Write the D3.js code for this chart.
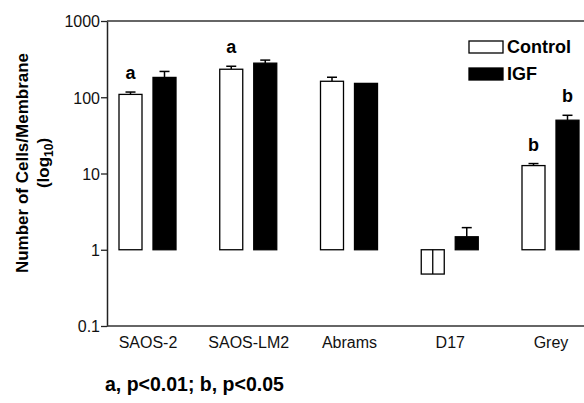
<!DOCTYPE html>
<html><head><meta charset="utf-8">
<script src="https://cdn.jsdelivr.net/npm/d3@7"></script>
<style>
body{margin:0;background:#fff;}
svg{display:block;font-family:Arial,"Liberation Sans",Helvetica,sans-serif;}
</style></head>
<body><svg id="c" width="584" height="403"></svg>
<script>
const categories = ["SAOS-2","SAOS-LM2","Abrams","D17","Grey"];
const controlValues = [109, 233, 162, 0.48, 12.7];
const igfValues = [182, 280, 152, 1.48, 50];
const controlErr = [117, 255, 183, 0.48, 13.5];
const igfErr = [218, 307, null, 1.95, 58];
const controlSig = ["a","a","","","b"];
const igfSig = ["","","","","b"];
const yTicks = [0.1, 1, 10, 100, 1000];
const yTickLabels = ["0.1","1","10","100","1000"];
const seriesNames = ["Control","IGF"];

const svg = d3.select("#c");
const y = d3.scaleLog().domain([0.1,1000]).range([326,21]);
const x = d3.scalePoint().domain(categories).range([147.5,550.5]);
const off = {Control:[-28.5,-5.5], IGF:[5.5,28.5]};
const fills = {Control:"#fff", IGF:"#000"};

// axes
const yAxis = d3.axisLeft(y).tickValues(yTicks).tickFormat((d,i)=>yTickLabels[i]).tickSize(6).tickSizeOuter(0);
const gy = svg.append("g").attr("transform","translate(107,0)").call(yAxis);
gy.select(".domain").attr("stroke","#222").attr("stroke-width",1.5);
gy.selectAll(".tick line").attr("stroke","#222").attr("stroke-width",1.3);
gy.selectAll(".tick text").attr("font-size",16).attr("fill","#111").attr("x",-7).attr("dy","0.36em");

const xAxis = d3.axisBottom(x).tickSize(0).tickSizeOuter(0);
const gx = svg.append("g").attr("transform","translate(0,326)").call(xAxis);
gx.select(".domain").remove();
gx.selectAll(".tick text").attr("font-size",16).attr("fill","#111").attr("dy","1.2em");
svg.append("line").attr("x1",107).attr("x2",584).attr("y1",326).attr("y2",326).attr("stroke","#333").attr("stroke-width",1.6);
svg.append("line").attr("x1",107).attr("x2",584).attr("y1",21).attr("y2",21).attr("stroke","#333").attr("stroke-width",1.6);

const series = [
  {name:"Control", vals:controlValues, err:controlErr, sig:controlSig},
  {name:"IGF", vals:igfValues, err:igfErr, sig:igfSig}
];
series.forEach(s=>{
  const g = svg.append("g");
  categories.forEach((c,i)=>{
    const v = s.vals[i];
    const x0 = x(c)+off[s.name][0], x1 = x(c)+off[s.name][1];
    const ya = y(Math.max(v,1)), yb = y(Math.min(v,1));
    const xm = (x0+x1)/2;
    const e = s.err[i];
    if(e!=null){
      if(v>=1){
        g.append("line").attr("x1",xm).attr("x2",xm).attr("y1",y(v)).attr("y2",y(e)).attr("stroke","#000").attr("stroke-width",1.5);
        g.append("line").attr("x1",xm-5).attr("x2",xm+5).attr("y1",y(e)).attr("y2",y(e)).attr("stroke","#000").attr("stroke-width",1.5);
      }
    }
    g.append("rect").attr("x",x0).attr("y",ya).attr("width",x1-x0).attr("height",yb-ya)
      .attr("fill",fills[s.name]).attr("stroke","#000").attr("stroke-width",1.3);
    if(e!=null && v<1){
      g.append("line").attr("x1",xm).attr("x2",xm).attr("y1",y(1)).attr("y2",y(e)).attr("stroke","#000").attr("stroke-width",1.3);
    }
    if(s.sig[i]){
      const top = e!=null ? y(e) : y(v);
      g.append("text").attr("x",xm).attr("y",top-13).attr("text-anchor","middle")
        .attr("font-size",18).attr("font-weight","bold").text(s.sig[i]);
    }
  });
});

// legend
const lg = svg.append("g");
seriesNames.forEach((n,i)=>{
  lg.append("rect").attr("x",469).attr("y",41+i*27).attr("width",34).attr("height",12)
    .attr("fill",fills[n]).attr("stroke","#000").attr("stroke-width",1.3);
  lg.append("text").attr("x",507).attr("y",53+i*27).attr("font-size",18).attr("font-weight","bold").text(n);
});

// y label
const yl = svg.append("text").attr("transform","translate(28,163) rotate(-90)").attr("text-anchor","middle")
  .attr("font-size",17).attr("font-weight","bold");
yl.text("Number of Cells/Membrane");
const yl2 = svg.append("text").attr("transform","translate(49,163) rotate(-90)").attr("text-anchor","middle")
  .attr("font-size",17).attr("font-weight","bold");
yl2.append("tspan").text("(log");
yl2.append("tspan").attr("font-size",12).attr("dy",4).text("10");
yl2.append("tspan").attr("dy",-4).text(")");

// footnote
svg.append("text").attr("x",105).attr("y",391).attr("font-size",19.5).attr("font-weight","bold")
  .text("a, p<0.01; b, p<0.05");
</script></body></html>
